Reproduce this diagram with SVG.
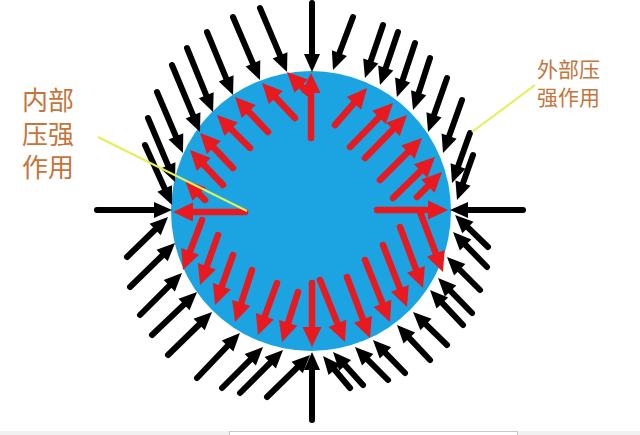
<svg xmlns="http://www.w3.org/2000/svg" width="640" height="435" viewBox="0 0 640 435">
<style>
.blk{fill:none;stroke:#000;stroke-width:6;stroke-linecap:round;marker-end:url(#hb)}
.red{fill:none;stroke:#e8191f;stroke-width:6.5;stroke-linecap:round;marker-end:url(#hr)}
.lbl{font-family:"Noto Sans CJK SC","Noto Sans",sans-serif;fill:#c5743a}
.lead{stroke:#e4ef55;stroke-width:2;fill:none}
</style>
<defs>
<marker id="hb" markerUnits="userSpaceOnUse" viewBox="-4 -9 20 18" markerWidth="20" markerHeight="18" refX="0" refY="0" orient="auto"><path d="M-3,-8 L15,0 L-3,8 Z" fill="#000"/></marker>
<marker id="hr" markerUnits="userSpaceOnUse" viewBox="-4 -11 22 22" markerWidth="22" markerHeight="22" refX="0" refY="0" orient="auto"><path d="M-3,-9.5 L17,0 L-3,9.5 Z" fill="#e8191f"/></marker>
</defs>
<rect width="640" height="435" fill="#fff"/>
<g id="footer">
<rect x="0" y="431" width="640" height="4" fill="#f1f1f1"/>
<rect x="229.5" y="431.5" width="288" height="6" fill="#fff" stroke="#c8c8c8"/>
</g>
<g id="sphere"><circle cx="311" cy="211" r="140" fill="#1ba3e2"/></g>
<g id="outer-arrows">
<path class="blk" d="M260,8 L281.2,58.2"/>
<path class="blk" d="M233,17 L254.1,66.2"/>
<path class="blk" d="M207,32 L227.3,81.1"/>
<path class="blk" d="M187,48 L207.4,98.1"/>
<path class="blk" d="M172,65 L194.2,118.2"/>
<path class="blk" d="M157,92 L177.1,139.2"/>
<path class="blk" d="M148,118 L169.2,168.2"/>
<path class="blk" d="M145,145 L165.9,191.3"/>
<path class="blk" d="M312,3 L312,57"/>
<path class="blk" d="M97,210 L157,210"/>
<path class="blk" d="M353,17 L338.3,56"/>
<path class="blk" d="M383,25 L369.8,63.8"/>
<path class="blk" d="M398,32 L384.8,70.8"/>
<path class="blk" d="M415,43 L401.7,82.8"/>
<path class="blk" d="M430,58 L417.7,95.7"/>
<path class="blk" d="M447,78 L433,117.8"/>
<path class="blk" d="M462,100 L448.1,138.9"/>
<path class="blk" d="M470,133 L457.1,168.9"/>
<path class="blk" d="M473,155 L462,185.9"/>
<path class="blk" d="M523,210 L465,210"/>
<path class="blk" d="M127,257 L157.3,227.5"/>
<path class="blk" d="M130,287 L164.3,253.5"/>
<path class="blk" d="M140,315 L171.4,283.6"/>
<path class="blk" d="M152,335 L186.2,302.4"/>
<path class="blk" d="M168,355 L201.3,322.5"/>
<path class="blk" d="M197,378 L229.6,343.8"/>
<path class="blk" d="M222,388 L252.4,357.6"/>
<path class="blk" d="M240,393 L272.4,360.6"/>
<path class="blk" d="M267,397 L299.3,365.5"/>
<path class="blk" d="M312,420 L312,367"/>
<path class="blk" d="M350,388 L332.7,367.5"/>
<path class="blk" d="M363,385 L343.1,363.1"/>
<path class="blk" d="M388,380 L365.6,357.6"/>
<path class="blk" d="M405,373 L383.4,350.8"/>
<path class="blk" d="M430,360 L407.3,335.9"/>
<path class="blk" d="M447,345 L423.8,322.4"/>
<path class="blk" d="M463,325 L440.3,300.9"/>
<path class="blk" d="M472,313 L448.5,288.8"/>
<path class="blk" d="M480,290 L457.6,267.6"/>
<path class="blk" d="M487,267 L463.5,242.8"/>
<path class="blk" d="M488,247 L465.8,225.4"/>
</g>
<g id="inner-arrows">
<path class="red" d="M311,138 L311,90"/>
<path class="red" d="M308,93 L299,84"/>
<path class="red" d="M295,118 L273.7,95.4"/>
<path class="red" d="M268,132 L246.7,109.4"/>
<path class="red" d="M250,148 L229,127"/>
<path class="red" d="M233,168 L211.7,145.4"/>
<path class="red" d="M223,185 L201.7,162.4"/>
<path class="red" d="M205,200 L197,192"/>
<path class="red" d="M245,212 L190,212"/>
<path class="red" d="M335,125 L355.9,100.9"/>
<path class="red" d="M350,147 L381.1,115.2"/>
<path class="red" d="M365,158 L395.1,127.2"/>
<path class="red" d="M380,180 L410,150"/>
<path class="red" d="M393,198 L422.8,168.9"/>
<path class="red" d="M417,197 L430,184"/>
<path class="red" d="M377,210 L431,210"/>
<path class="red" d="M202,220 L189,254.1"/>
<path class="red" d="M218,235 L205.8,269"/>
<path class="red" d="M233,255 L220.8,289"/>
<path class="red" d="M252,270 L240.3,305.8"/>
<path class="red" d="M277,283 L263.8,319"/>
<path class="red" d="M298,292 L287.2,325.8"/>
<path class="red" d="M312,283 L312,330"/>
<path class="red" d="M320,280 L338.6,326.2"/>
<path class="red" d="M347,277 L364,322.1"/>
<path class="red" d="M365,260 L383.6,306.2"/>
<path class="red" d="M383,245 L400.9,291.2"/>
<path class="red" d="M400,227 L417,272.1"/>
<path class="red" d="M420,212 L436.9,256.1"/>
</g>
<g id="label-inner">
<line class="lead" x1="98" y1="137" x2="247" y2="211"/>
<text class="lbl" font-size="26"><tspan x="22" y="110">内部</tspan><tspan x="22" y="143.5">压强</tspan><tspan x="22" y="177">作用</tspan></text>
</g>
<g id="label-outer">
<line class="lead" x1="535" y1="85" x2="472" y2="132" stroke-width="2.5"/>
<text class="lbl" font-size="21"><tspan x="537" y="77">外部压</tspan><tspan x="537" y="105">强作用</tspan></text>
</g>
</svg>
